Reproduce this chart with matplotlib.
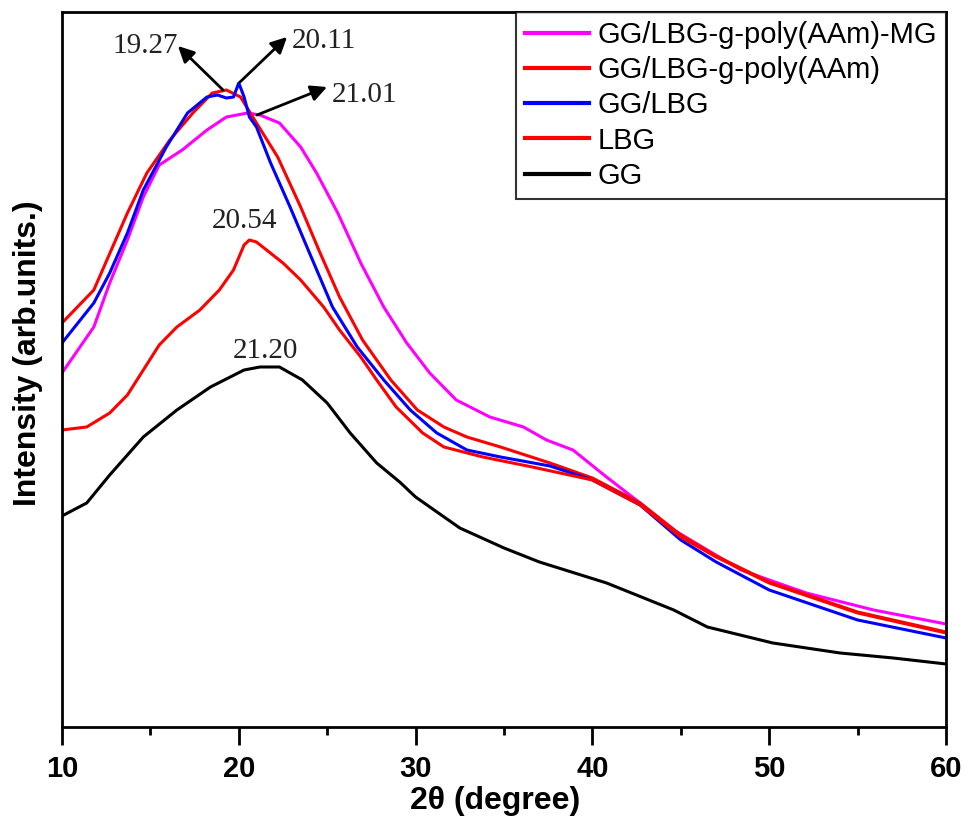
#!/usr/bin/env python3

import matplotlib
matplotlib.use('Agg')
import matplotlib.pyplot as plt

# 2theta (degree) / intensity (arb. units)
gg_x = [10, 11.4, 12.7, 14.6, 16.5, 18.4, 20.3, 21.2, 22.3, 23.6, 25.0, 26.3, 27.8,
        29.1, 30, 32.5, 35, 37, 40.8, 44.6, 46.5, 50.2, 54, 57, 60]
gg_y = [211, 224, 252, 290, 317, 340, 357, 360, 360, 347, 324, 294, 264,
        245, 230, 199, 179, 165, 144, 117, 100, 84, 74, 69, 63]

lbg_x = [10, 11.4, 12.7, 13.7, 14.6, 15.5, 16.5, 17.8, 18.9, 19.7, 20.3, 20.6, 21.0,
         22.5, 23.5, 24.8, 25.7, 26.9, 27.8, 28.9, 30.4, 31.6, 33.8, 36.6, 40, 42.7,
         45, 47, 50, 55, 60]
lbg_y = [297, 300, 314, 332, 357, 382, 400, 417, 437, 457, 482, 487, 485,
         464, 447, 420, 397, 370, 347, 320, 294, 280, 270, 260, 247, 222,
         190, 170, 144, 114, 94]

gglbg_x = [10, 11.8, 12.7, 13.7, 14.6, 15.9, 17.1, 18.2, 18.8, 19.3, 19.7, 20.0, 20.3,
           20.6, 21.0, 21.8, 22.9, 24.0, 25.3, 26.7, 28.2, 29.7, 31.2, 32.9, 34.8,
           37.6, 40, 42.7, 45, 47, 50, 55, 60]
gglbg_y = [384, 424, 454, 494, 537, 580, 614, 630, 632, 629, 630, 644, 630,
           610, 600, 564, 520, 474, 420, 380, 347, 317, 294, 277, 270,
           261, 247, 222, 187, 165, 137, 107, 89]

paam_x = [10, 11.8, 13.7, 14.8, 16.1, 17.4, 18.5, 19.3, 20.1, 21.0, 22.2, 23.5, 24.6,
          25.7, 27.0, 28.6, 30.1, 31.6, 32.9, 34.8, 37.6, 40, 42.7, 45, 47, 50, 55, 60]
paam_y = [404, 437, 514, 554, 587, 614, 634, 637, 630, 604, 570, 520, 474,
          430, 387, 347, 317, 300, 290, 280, 264, 249, 224, 192, 171, 145, 115, 95]

mg_x = [10, 11.8, 12.7, 13.7, 14.6, 15.5, 16.8, 18.2, 19.3, 20.5, 21.2, 22.3, 23.5,
        24.4, 25.6, 26.9, 28.2, 29.5, 30.8, 32.3, 34.2, 36.1, 37.4, 38.9, 40.8,
        42.7, 44.6, 48.4, 52.1, 55.9, 60]
mg_y = [354, 400, 444, 487, 530, 562, 577, 597, 610, 614, 612, 604, 580,
        554, 514, 464, 420, 384, 354, 327, 310, 300, 287, 277, 250,
        224, 197, 157, 134, 117, 103]

labels = ['GG/LBG-g-poly(AAm)-MG', 'GG/LBG-g-poly(AAm)', 'GG/LBG', 'LBG', 'GG']
colors = ['#ff00ff', '#ff0000', '#0000ff', '#ff0000', 'black']

# peak labels with arrows
arrow_text = ['19.27', '20.11', '21.01']
arrow_tail = [(19.11, 637), (20.07, 645), (21.03, 612)]
arrow_tip = [(16.56, 681), (22.73, 690), (24.99, 640)]
arrow_text_pos = [(14.69, 674), (23.01, 679), (25.27, 625)]
arrow_text_ha = ['center', 'left', 'left']

# peak labels without arrows
plain_text = ['20.54', '21.20']
plain_text_pos = [(20.35, 499), (21.48, 369)]

fig = plt.figure(figsize=(9.64, 8.17), dpi=100)
ax = fig.add_axes([0.0643, 0.1102, 0.917, 0.8751])

series = [(mg_x, mg_y), (paam_x, paam_y), (gglbg_x, gglbg_y), (lbg_x, lbg_y), (gg_x, gg_y)]
for (x, y), c, lab in zip(series, colors, labels):
    ax.plot(x, y, color=c, lw=2.2, label=lab)

serif = 'Liberation Serif'
for txt, tail, tip, pos, ha in zip(arrow_text, arrow_tail, arrow_tip, arrow_text_pos, arrow_text_ha):
    ax.annotate('', xy=tip, xytext=tail,
                arrowprops=dict(arrowstyle='-|>', lw=2, color='black', mutation_scale=24,
                                shrinkA=0, shrinkB=0))
    ax.text(pos[0], pos[1], txt, family=serif, fontsize=21, ha=ha, va='baseline', color='#222222')

for txt, pos in zip(plain_text, plain_text_pos):
    ax.text(pos[0], pos[1], txt, family=serif, fontsize=21, ha='center', va='baseline', color='#222222')

ax.set_xlim(10, 60)
ax.set_ylim(0, 715)
ax.set_xticks([10, 20, 30, 40, 50, 60])
ax.set_xticks([15, 25, 35, 45, 55], minor=True)
ax.set_yticks([])
ax.tick_params(axis='x', which='major', length=13, width=2, direction='out', pad=7)
ax.tick_params(axis='x', which='minor', length=6, width=2, direction='out')
for lab in ax.get_xticklabels():
    lab.set_fontfamily('Liberation Sans')
    lab.set_fontweight('bold')
    lab.set_fontsize(21)
for s in ax.spines.values():
    s.set_linewidth(2)

ax.set_xlabel('2\u03b8 (degree)', family='Liberation Sans', fontweight='bold', fontsize=23)
ax.xaxis.set_label_coords(0.49, -0.082)
ax.set_ylabel('Intensity (arb.units.)', family='Liberation Sans', fontweight='bold', fontsize=23)
ax.yaxis.set_label_coords(-0.021, 0.523)

leg = ax.legend(loc='upper right', prop={'family': 'Liberation Sans', 'size': 21},
                frameon=True, fancybox=False, edgecolor='black', borderaxespad=0.0,
                handlelength=2.2, handletextpad=0.3, labelspacing=0.25, borderpad=0.3)
leg.get_frame().set_linewidth(1.5)
for line in leg.get_lines():
    line.set_linewidth(3)

plt.savefig('out.png', dpi=100)
